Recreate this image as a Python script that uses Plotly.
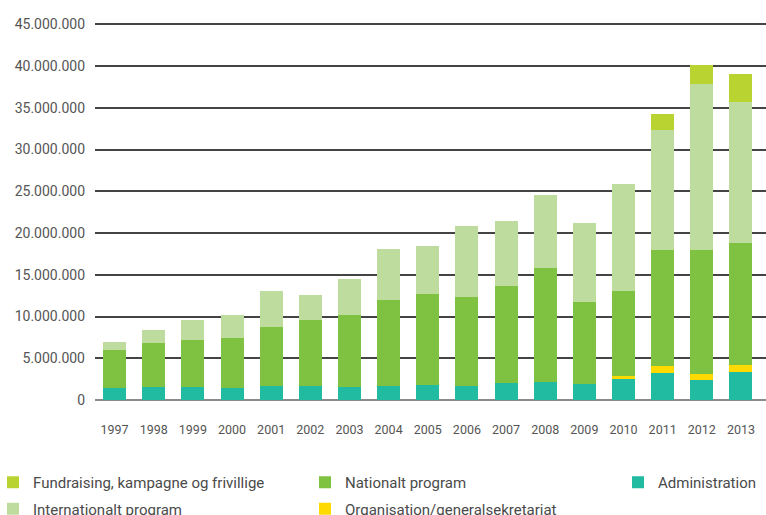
import plotly.graph_objects as go

years = ["1997", "1998", "1999", "2000", "2001", "2002", "2003", "2004", "2005",
         "2006", "2007", "2008", "2009", "2010", "2011", "2012", "2013"]

administration = [1440000, 1560000, 1560000, 1440000, 1720000, 1720000, 1560000, 1720000,
                  1800000, 1720000, 2040000, 2160000, 1920000, 2560000, 3200000, 2440000, 3320000]
organisation = [0, 0, 0, 0, 0, 0, 0, 0, 0, 0, 0, 0, 0, 310000, 840000, 720000, 870000]
nationalt = [4560000, 5310000, 5630000, 5990000, 7020000, 7910000, 8620000, 10260000,
             10860000, 10620000, 11610000, 13650000, 9820000, 10180000, 13920000, 14800000, 14580000]
internationalt = [900000, 1480000, 2350000, 2750000, 4310000, 2910000, 4270000, 6070000,
                  5740000, 8560000, 7750000, 8690000, 9420000, 12780000, 14440000, 19840000, 16880000]
fundraising = [0, 0, 0, 0, 0, 0, 0, 0, 0, 0, 0, 0, 0, 0, 1900000, 2300000, 3400000]

y_ticks = [0, 5000000, 10000000, 15000000, 20000000, 25000000, 30000000, 35000000, 40000000, 45000000]

series = [
    ("Administration", administration, "#20BBA0", "legend3", 1),
    ("Organisation/generalsekretariat", organisation, "#FFDA00", "legend2", 2),
    ("Nationalt program", nationalt, "#7FC241", "legend2", 1),
    ("Internationalt program", internationalt, "#BEDC9D", "legend", 2),
    ("Fundraising, kampagne og frivillige", fundraising, "#B9D431", "legend", 1),
]

fig = go.Figure()
for name, vals, color, leg, rank in series:
    fig.add_trace(go.Bar(
        x=years, y=vals, name=name, marker=dict(color=color, line=dict(width=0)),
        legend=leg, legendgroup=name, legendrank=rank,
    ))

font_family = "Roboto, 'Liberation Sans', sans-serif"
W, H = 766, 515
L, R, T, B = 95, 0, 16, 115

def px_x(p):
    return (p - L) / (W - L - R)

def px_y(p):
    return (H - B - p) / (H - T - B)

leg_common = dict(
    orientation="v", yanchor="top", xanchor="left",
    font=dict(family=font_family, size=15, color="#4a4a4a"),
    bgcolor="rgba(0,0,0,0)", tracegroupgap=4, traceorder="grouped",
)

fig.update_layout(
    width=W, height=H,
    margin=dict(l=L, r=R, t=T, b=B, autoexpand=False),
    barmode="stack", bargap=0.413,
    plot_bgcolor="white", paper_bgcolor="white",
    separators=",.",
    font=dict(family=font_family, color="#555555"),
    showlegend=True,
    legend=dict(x=px_x(-7), y=px_y(466), **leg_common),
    legend2=dict(x=px_x(305), y=px_y(466), **leg_common),
    legend3=dict(x=px_x(618), y=px_y(466), **leg_common),
    xaxis=dict(
        type="category", range=[-0.5, 16.64], showgrid=False, showline=False,
        ticks="", tickfont=dict(size=12.5, color="#555555"), ticklabelstandoff=20,
        fixedrange=True, automargin=False,
    ),
    yaxis=dict(
        range=[0, 46000000], tickvals=y_ticks, tickformat=",d",
        showgrid=True, gridcolor="#444444", gridwidth=1.5,
        zeroline=True, zerolinecolor="#8a8a8a", zerolinewidth=1.8,
        showline=False, ticks="", tickfont=dict(size=14, color="#555555"),
        ticklabelstandoff=9, fixedrange=True, automargin=False,
    ),
)

fig.write_html(
    "out.html",
    config={"displayModeBar": False},
    post_script="document.body.style.margin='0';document.body.style.overflow='hidden';",
)
